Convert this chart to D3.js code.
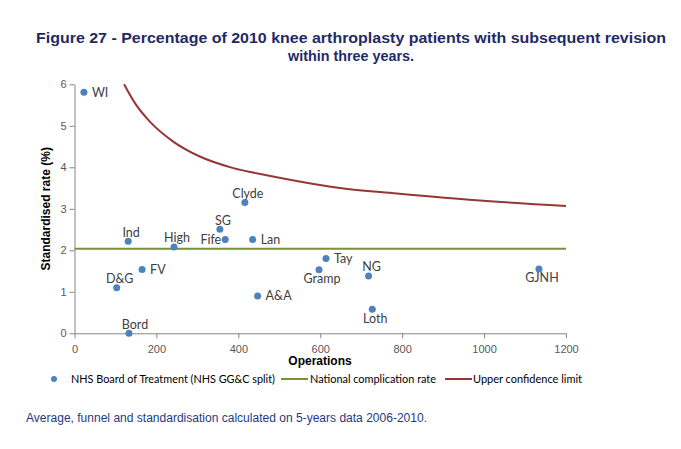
<!DOCTYPE html>
<html><head><meta charset="utf-8">
<script src="https://cdn.jsdelivr.net/npm/d3@7"></script>
<style>body{margin:0;background:#fff}svg{display:block}</style>
</head><body>
<svg id="c" width="681" height="449"></svg>
<script>
// ---- data ----
const boards = ["WI","Clyde","Ind","SG","Fife","Lan","High","FV","D&G","A&A","Bord","Gramp","Tay","NG","Loth","GJNH"];
const operations = [23,416,131,355,368,435,243,165,103,447,133,597,614,718,727,1134];
const rates = [5.81,3.15,2.22,2.51,2.26,2.26,2.08,1.54,1.10,0.90,0.00,1.53,1.80,1.38,0.58,1.55];
const labelPlacement = ["right","above","above","above","left","right","above","right","above","right","above","below","right","above","below","below"];
const nationalRate = 2.04;
const uclOps = [121,148,184,241,306,388,469,549,648,787,990,1200];
const uclRates = [6.0,5.54,5.10,4.62,4.26,3.98,3.81,3.66,3.50,3.37,3.20,3.07];
const xTicks = [0,200,400,600,800,1000,1200];
const yTicks = [0,1,2,3,4,5,6];
const legendLabels = ["NHS Board of Treatment (NHS GG&C split)","National complication rate","Upper confidence limit"];

// ---- drawing ----
const svg = d3.select("#c");
const x = d3.scaleLinear().domain([0,1200]).range([74.5,566]);
const y = d3.scaleLinear().domain([0,6]).range([333.3,84.3]);
const axisCol = "#868686", tickCol = "#595959";
const blue = "#4F81BD", green = "#76923C", red = "#953735";

// title
const title = svg.append("g").attr("font-family","Liberation Sans, Arial, sans-serif")
  .attr("font-weight","bold").attr("font-size",14.5).attr("fill","#1F2A66").attr("text-anchor","middle");
title.append("text").attr("x",351).attr("y",43).attr("textLength",630).attr("lengthAdjust","spacingAndGlyphs")
  .text("Figure 27 - Percentage of 2010 knee arthroplasty patients with subsequent revision");
title.append("text").attr("x",351).attr("y",61).attr("textLength",126).attr("lengthAdjust","spacingAndGlyphs")
  .text("within three years.");

// axes
const xAxis = svg.append("g").attr("transform",`translate(0,${y(0)})`)
  .call(d3.axisBottom(x).tickValues(xTicks).tickSize(5).tickSizeOuter(0).tickFormat(d3.format("d")));
const yAxis = svg.append("g").attr("transform",`translate(${x(0)},0)`)
  .call(d3.axisLeft(y).tickValues(yTicks).tickSize(5).tickSizeOuter(0).tickFormat(d3.format("d")));
[xAxis,yAxis].forEach(a=>{
  a.select(".domain").attr("stroke",axisCol);
  a.selectAll(".tick line").attr("stroke",axisCol);
  a.selectAll(".tick text").attr("fill",tickCol).attr("font-family","Liberation Sans, Arial, sans-serif").attr("font-size",11);
});
xAxis.selectAll(".tick text").attr("dy","1.05em");
yAxis.selectAll(".tick text").attr("x",-8);

// axis titles
svg.append("text").attr("x",320).attr("y",365).attr("text-anchor","middle")
  .attr("font-family","Liberation Sans, Arial, sans-serif").attr("font-weight","bold").attr("font-size",12).attr("fill","#000")
  .text("Operations");
svg.append("text").attr("transform",`translate(50,${(y(0)+y(6))/2}) rotate(-90)`).attr("text-anchor","middle")
  .attr("font-family","Liberation Sans, Arial, sans-serif").attr("font-weight","bold").attr("font-size",12).attr("fill","#000")
  .text("Standardised rate (%)");

// national rate line
svg.append("line").attr("x1",x(0)).attr("x2",x(1200)).attr("y1",y(nationalRate)).attr("y2",y(nationalRate))
  .attr("stroke",green).attr("stroke-width",2);

// upper confidence limit
const ucl = uclOps.map((o,i)=>[o,uclRates[i]]);
svg.append("path").datum(ucl)
  .attr("d",d3.line().x(d=>x(d[0])).y(d=>y(d[1])).curve(d3.curveMonotoneX))
  .attr("fill","none").attr("stroke",red).attr("stroke-width",2);

// points
const pts = boards.map((b,i)=>({b,o:operations[i],r:rates[i],p:labelPlacement[i]}));
svg.append("g").selectAll("circle").data(pts).join("circle")
  .attr("cx",d=>x(d.o)).attr("cy",d=>y(d.r)).attr("r",3.5).attr("fill",blue);

// labels
svg.append("g").attr("font-family","Lato, Open Sans, sans-serif").attr("font-size",12.5).attr("fill","#404040")
  .selectAll("text").data(pts).join("text")
  .attr("x",d=>x(d.o)+(d.p==="right"?8:d.p==="left"?-4:(d.b==="Bord"?6:3)))
  .attr("y",d=>y(d.r)+(d.p==="above"?-9:d.p==="below"?9:0))
  .attr("dy","0.35em")
  .attr("text-anchor",d=>d.p==="right"?"start":d.p==="left"?"end":"middle")
  .text(d=>d.b);

// legend
const lg = svg.append("g").attr("font-family","Lato, Open Sans, sans-serif").attr("font-size",11).attr("fill","#000");
lg.append("circle").attr("cx",54).attr("cy",379).attr("r",3).attr("fill",blue);
lg.append("text").attr("x",71).attr("y",379).attr("dy","0.35em").attr("textLength",204).attr("lengthAdjust","spacingAndGlyphs").text(legendLabels[0]);
lg.append("line").attr("x1",281).attr("x2",308).attr("y1",379).attr("y2",379).attr("stroke",green).attr("stroke-width",2);
lg.append("text").attr("x",310).attr("y",379).attr("dy","0.35em").attr("textLength",126).attr("lengthAdjust","spacingAndGlyphs").text(legendLabels[1]);
lg.append("line").attr("x1",445).attr("x2",472).attr("y1",379).attr("y2",379).attr("stroke",red).attr("stroke-width",2);
lg.append("text").attr("x",473).attr("y",379).attr("dy","0.35em").attr("textLength",109).attr("lengthAdjust","spacingAndGlyphs").text(legendLabels[2]);

// footnote
svg.append("text").attr("x",26).attr("y",422).attr("font-family","Liberation Sans, Arial, sans-serif").attr("font-size",12)
  .attr("fill","#1F3A80").attr("textLength",401).attr("lengthAdjust","spacingAndGlyphs")
  .text("Average, funnel and standardisation calculated on 5-years data 2006-2010.");
</script>
</body></html>
